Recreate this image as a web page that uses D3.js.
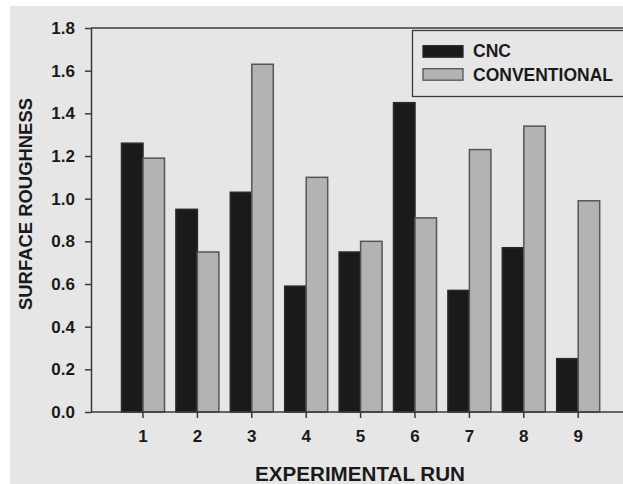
<!DOCTYPE html>
<html>
<head>
<meta charset="utf-8">
<script src="https://cdn.jsdelivr.net/npm/d3@7"></script>
<style>
  html, body { margin: 0; padding: 0; background: #ffffff; }
  svg { display: block; }
  text { font-family: "Liberation Sans", Arial, sans-serif; font-weight: bold; fill: #1a1a1a; }
</style>
</head>
<body>
<svg id="chart" width="623" height="484"></svg>
<script>
const runs = ["1", "2", "3", "4", "5", "6", "7", "8", "9"];
const seriesNames = ["CNC", "CONVENTIONAL"];
const cncValues = [1.26, 0.95, 1.03, 0.59, 0.75, 1.45, 0.57, 0.77, 0.25];
const conventionalValues = [1.19, 0.75, 1.63, 1.10, 0.80, 0.91, 1.23, 1.34, 0.99];
const yTicks = [0, 0.2, 0.4, 0.6, 0.8, 1.0, 1.2, 1.4, 1.6, 1.8];
const xTitle = "EXPERIMENTAL RUN";
const yTitle = "SURFACE ROUGHNESS";

const W = 623, H = 484;
const svg = d3.select("#chart");

// background panel
svg.append("rect").attr("x", 10).attr("y", 6).attr("width", W - 10).attr("height", H - 6).attr("fill", "#e6e6e6");

const plotLeft = 91, plotTop = 28, plotBottom = 412, plotRight = W;

const y = d3.scaleLinear().domain([0, 1.8]).range([plotBottom, plotTop]);
const x = d3.scaleBand().domain(runs).range([115.8, 605.4]).paddingInner(0.21).paddingOuter(0.105);
const xs = d3.scaleBand().domain(seriesNames).range([0, x.bandwidth()]);

const colors = { "CNC": "#1a1a1a", "CONVENTIONAL": "#b3b3b3" };
const strokes = { "CNC": "#2a2a2a", "CONVENTIONAL": "#555555" };

const data = runs.map((r, i) => ({ run: r, values: [
  { name: "CNC", v: cncValues[i] },
  { name: "CONVENTIONAL", v: conventionalValues[i] }
]}));

const g = svg.append("g");
g.selectAll("g.grp").data(data).join("g").attr("class", "grp")
  .attr("transform", d => `translate(${x(d.run)},0)`)
  .selectAll("rect").data(d => d.values).join("rect")
  .attr("x", d => xs(d.name))
  .attr("y", d => y(d.v))
  .attr("width", xs.bandwidth())
  .attr("height", d => y(0) - y(d.v))
  .attr("fill", d => colors[d.name])
  .attr("stroke", d => strokes[d.name])
  .attr("stroke-width", 1.5);

// frame lines
svg.append("line").attr("x1", plotLeft).attr("x2", plotRight).attr("y1", plotTop).attr("y2", plotTop)
  .attr("stroke", "#3a3a3a").attr("stroke-width", 1.5);
svg.append("line").attr("x1", plotLeft).attr("x2", plotRight).attr("y1", plotBottom).attr("y2", plotBottom)
  .attr("stroke", "#3a3a3a").attr("stroke-width", 1.5);

// y axis
const yAxis = svg.append("g").attr("transform", `translate(${plotLeft},0)`)
  .call(d3.axisLeft(y).tickValues(yTicks).tickFormat(d3.format(".1f")).tickSize(6).tickSizeOuter(0).tickPadding(10));
yAxis.select(".domain").attr("stroke", "#3a3a3a").attr("stroke-width", 1.5);
yAxis.selectAll(".tick line").attr("stroke", "#3a3a3a").attr("stroke-width", 1.5);
yAxis.selectAll(".tick text").style("font-size", "17px").style("font-family", "'Liberation Sans', Arial, sans-serif")
  .style("font-weight", "bold").attr("fill", "#1a1a1a");

// x axis
const xAxis = svg.append("g").attr("transform", `translate(0,${plotBottom})`)
  .call(d3.axisBottom(x).tickSize(6).tickSizeOuter(0).tickPadding(12));
xAxis.select(".domain").remove();
xAxis.selectAll(".tick line").attr("stroke", "#3a3a3a").attr("stroke-width", 1.5);
xAxis.selectAll(".tick text").style("font-size", "17px").style("font-family", "'Liberation Sans', Arial, sans-serif")
  .style("font-weight", "bold").attr("fill", "#1a1a1a");

// titles
svg.append("text").attr("x", 360).attr("y", 481).attr("text-anchor", "middle")
  .style("font-size", "20px").attr("textLength", 210).attr("lengthAdjust", "spacingAndGlyphs").text(xTitle);
svg.append("text").attr("transform", "translate(32,204) rotate(-90)").attr("text-anchor", "middle")
  .style("font-size", "18.5px").attr("textLength", 212).attr("lengthAdjust", "spacingAndGlyphs").text(yTitle);

// legend
const lg = svg.append("g");
lg.append("rect").attr("x", 412.5).attr("y", 30.5).attr("width", 220).attr("height", 66)
  .attr("fill", "#e6e6e6").attr("stroke", "#3a3a3a").attr("stroke-width", 1.3);
seriesNames.forEach((n, i) => {
  const yy = [45.7, 68.7][i];
  lg.append("rect").attr("x", 423).attr("y", yy).attr("width", 40).attr("height", 11.5)
    .attr("fill", colors[n]).attr("stroke", strokes[n]).attr("stroke-width", 1.3);
  lg.append("text").attr("x", 473).attr("y", [57.3, 80.7][i]).style("font-size", "17.5px").text(n);
});
</script>
</body>
</html>
